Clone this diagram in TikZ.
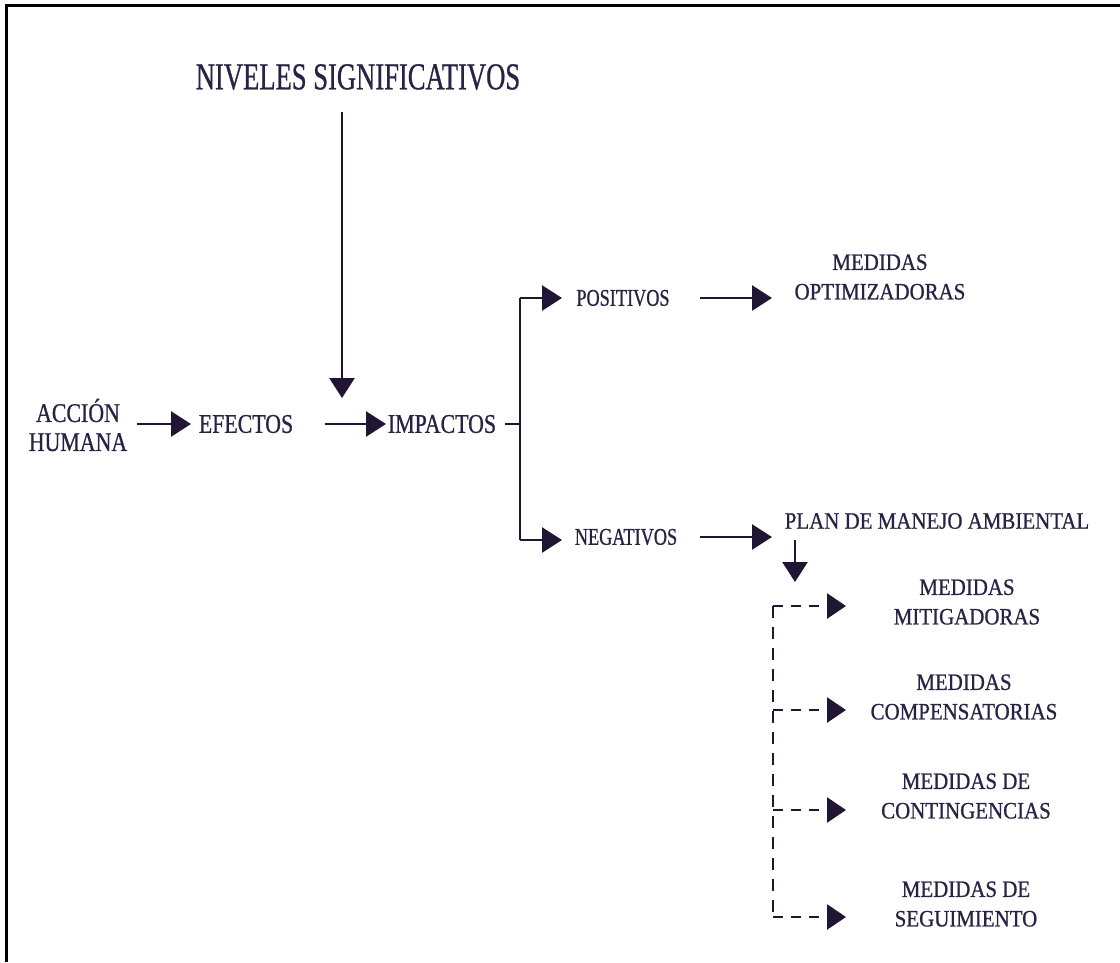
\documentclass[tikz,border=0pt]{standalone}
\usepackage{fontspec}
\setmainfont{Liberation Serif}
\newfontfamily\titlefont[FakeStretch=0.70,FakeBold=0.7]{Liberation Serif}
\newfontfamily\mainfont[FakeStretch=0.81,FakeBold=0.8]{Liberation Serif}
\newfontfamily\medfont[FakeStretch=0.89,FakeBold=0.8]{Liberation Serif}
\newfontfamily\smlfont[FakeStretch=0.76,FakeBold=0.8]{Liberation Serif}
\usetikzlibrary{arrows.meta}
\definecolor{ink}{RGB}{32,22,52}
\definecolor{txt}{RGB}{38,36,68}
\tikzset{
  lbl/.style={text=txt, inner sep=0pt, align=center, font=\mainfont\fontsize{27}{29}\selectfont},
  med/.style={text=txt, inner sep=0pt, align=center, font=\medfont\fontsize{23.5}{29.5}\selectfont},
  sml/.style={text=txt, inner sep=0pt, align=center, font=\smlfont\fontsize{24}{28}\selectfont},
  ttl/.style={text=txt, inner sep=0pt, font=\titlefont\fontsize{38}{42}\selectfont},
  arr/.style={draw=ink, line width=2.7pt, -{Triangle[length=20pt,width=25pt]}},
  link/.style={draw=ink, line width=2.7pt},
  darr/.style={draw=ink, line width=2.6pt, dash pattern=on 10pt off 8pt, -{Triangle[length=19pt,width=25pt]}},
  dlink/.style={draw=ink, line width=2.6pt, dash pattern=on 12pt off 9pt},
}
\begin{document}
\begin{tikzpicture}[x=1pt,y=-1pt]
\useasboundingbox (0,0) rectangle (1120,962);
% page frame (left and top edges only)
\draw[line width=2.6pt, black] (6.5,962) -- (6.5,5.5) -- (1120,5.5);

% nodes
\node[ttl] (niv) at (358,77) {NIVELES SIGNIFICATIVOS};
\node[lbl] (acc) at (78,425) {ACCIÓN\\HUMANA};
\node[lbl] (efe) at (246,424) {EFECTOS};
\node[lbl] (imp) at (442,424) {IMPACTOS};
\node[sml] (pos) at (623,298) {POSITIVOS};
\node[sml] (neg) at (626,537) {NEGATIVOS};
\node[med] (opt) at (880,277) {MEDIDAS\\OPTIMIZADORAS};
\node[med] (pma) at (937,521) {PLAN DE MANEJO AMBIENTAL};
\node[med] (mit) at (967,602) {MEDIDAS\\MITIGADORAS};
\node[med] (com) at (964,697) {MEDIDAS\\COMPENSATORIAS};
\node[med] (con) at (966,796) {MEDIDAS DE\\CONTINGENCIAS};
\node[med] (seg) at (966,904) {MEDIDAS DE\\SEGUIMIENTO};

% junction points
\coordinate (nivtip) at (342,398);
\coordinate (br) at (520,424);
\coordinate (brtop) at (520,298);
\coordinate (brbot) at (520,540);
\coordinate (pmatip) at (795,582);
\coordinate (dtop) at (773,606);
\coordinate (dbot) at (773,917);

% main chain
\draw[arr] (342,112) -- (nivtip);
\draw[arr] (137,424) -- (efe.west -| 191,0);
\draw[arr] (325,424) -- (386,424);
\draw[link] (505,424) -- (br);
\draw[link] (brtop) -- (brbot);
\draw[arr] (brtop) -- (562,298);
\draw[arr] (brbot) -- (562,540);
\draw[arr] (700,298) -- (772,298);
\draw[arr] (700,537) -- (772,537);
\draw[arr] (795,540) -- (pmatip);

% dashed distribution to the plan measures
\draw[dlink] (dtop) -- (dbot);
\draw[darr] (dtop) -- (846,606);
\draw[darr] (773,710) -- (846,710);
\draw[darr] (773,810) -- (846,810);
\draw[darr] (dbot) -- (846,917);
\end{tikzpicture}
\end{document}
